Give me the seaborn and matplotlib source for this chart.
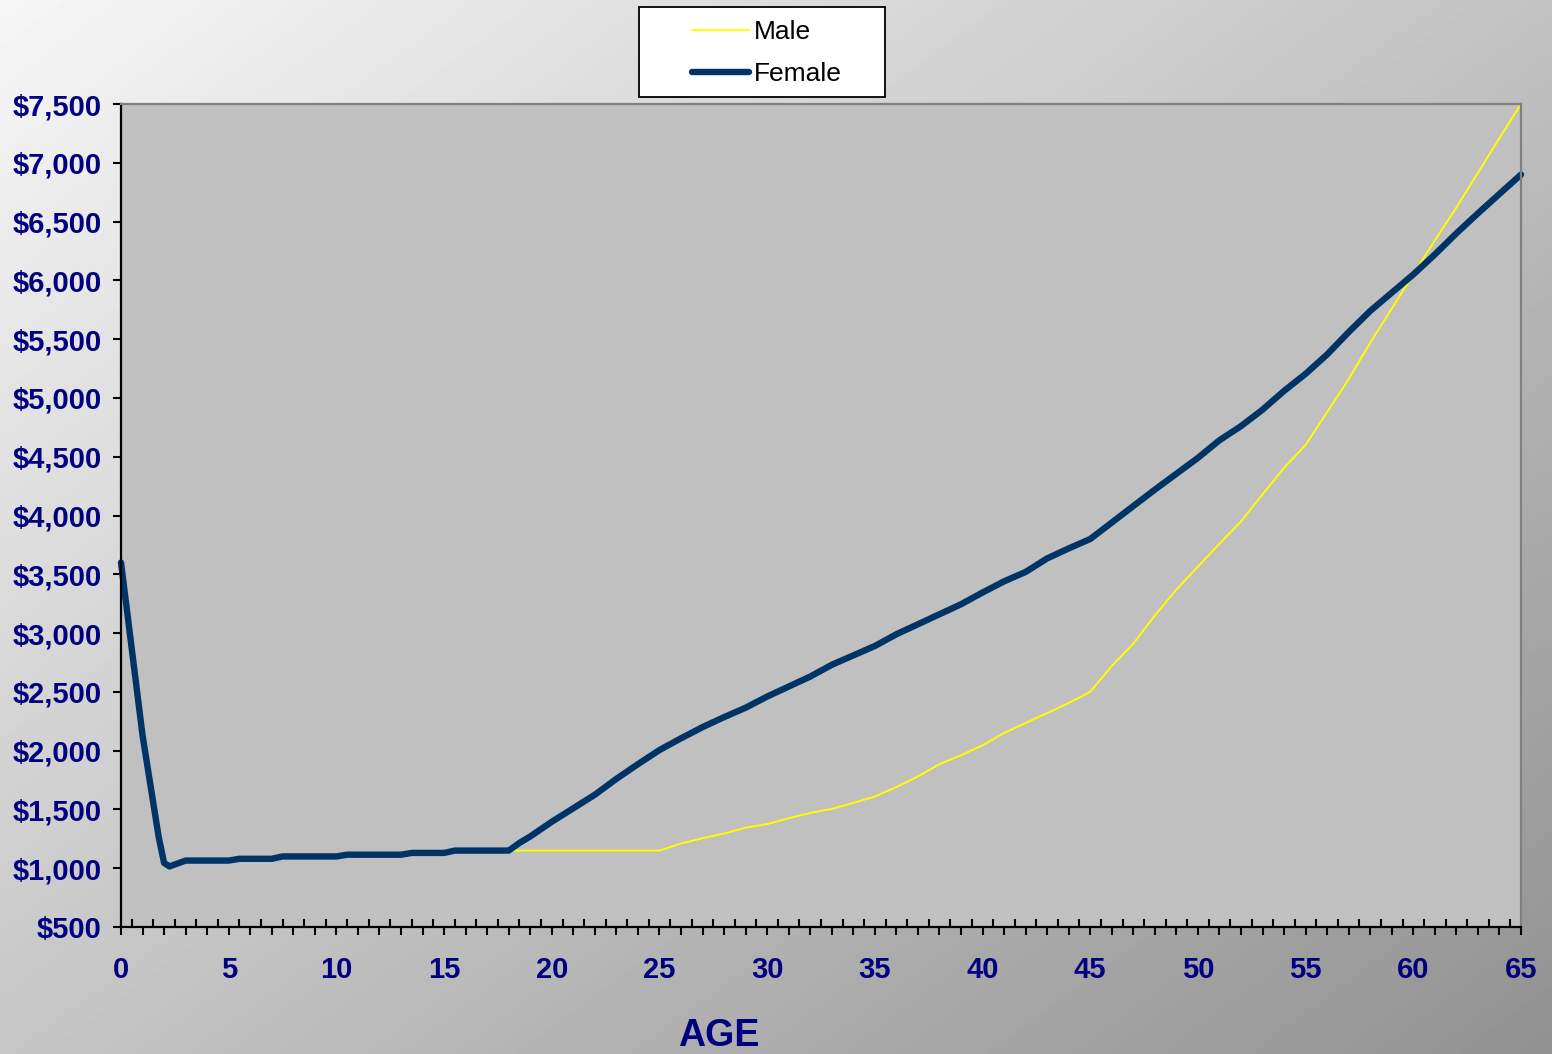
import numpy as np
import matplotlib
matplotlib.use("Agg")
import matplotlib.pyplot as plt
import seaborn as sns
from matplotlib.ticker import MultipleLocator, FuncFormatter
from matplotlib.patches import Rectangle

# Annual cost by age
ages = [0, 1, 1.75, 2, 2.25, 3, 5, 5.5, 7, 7.5, 10, 10.5, 13, 13.5, 15, 15.5, 18, 18.5,
        19, 20, 21, 22, 23, 24, 25, 26, 27, 28, 29, 30, 31, 32, 33, 34, 35, 36, 37, 38,
        39, 40, 41, 42, 43, 44, 45, 46, 47, 48, 49, 50, 51, 52, 53, 54, 55, 56, 57, 58,
        59, 60, 61, 62, 63, 64, 65]

female = [3600, 2130, 1265, 1045, 1015, 1065, 1065, 1080, 1080, 1100, 1100, 1115, 1115,
          1130, 1130, 1150, 1150, 1215,
          1270, 1395, 1510, 1625, 1760, 1885, 2005, 2105, 2200, 2285, 2365, 2460, 2545,
          2630, 2730, 2810, 2890, 2990, 3075, 3160, 3245, 3345, 3440, 3520, 3635, 3720,
          3800, 3940, 4080, 4220, 4355, 4490, 4640, 4760, 4900, 5060, 5205, 5370, 5560,
          5740, 5895, 6050, 6220, 6400, 6570, 6735, 6900]

male = [3600, 2130, 1265, 1045, 1015, 1065, 1065, 1080, 1080, 1100, 1100, 1115, 1115,
        1130, 1130, 1150, 1150, 1150,
        1150, 1150, 1150, 1150, 1150, 1150, 1150, 1210, 1255, 1295, 1345, 1375, 1425,
        1470, 1505, 1555, 1610, 1690, 1780, 1885, 1960, 2045, 2150, 2235, 2320, 2405,
        2500, 2720, 2910, 3150, 3370, 3565, 3760, 3950, 4180, 4405, 4600, 4880, 5160,
        5470, 5760, 6050, 6340, 6620, 6915, 7210, 7500]

series_names = ["Male", "Female"]
series_colors = ["#FFFF00", "#003366"]

plt.rcParams["font.family"] = ["Liberation Sans", "DejaVu Sans"]
LABEL_BLUE = "#000080"

W, H = 1552, 1054
fig = plt.figure(figsize=(W / 100, H / 100), dpi=100)

# diagonal grey gradient backdrop
bg = fig.add_axes([0, 0, 1, 1], zorder=-10)
yy, xx = np.mgrid[0:1:300j, 0:1:450j]
t = 0.52 * xx + 0.48 * yy
shade = 0.965 - 0.395 * t
bg.imshow(shade, cmap="gray", vmin=0, vmax=1, extent=[0, 1, 0, 1],
          origin="upper", aspect="auto", interpolation="bilinear")
bg.axis("off")

ax = fig.add_axes([121 / W, 127 / H, 1400 / W, 823 / H])
ax.set_facecolor("#C0C0C0")

sns.lineplot(x=ages, y=male, ax=ax, color=series_colors[0], linewidth=1.4,
             label=series_names[0], sort=False)
sns.lineplot(x=ages, y=female, ax=ax, color=series_colors[1], linewidth=4.6,
             label=series_names[1], sort=False, solid_capstyle="round",
             solid_joinstyle="round", clip_on=False)

ax.set_xlim(0, 65)
ax.set_ylim(500, 7500)

ax.xaxis.set_major_locator(MultipleLocator(1))
ax.xaxis.set_minor_locator(MultipleLocator(0.5))
ax.xaxis.set_major_formatter(FuncFormatter(
    lambda v, p: f"{int(round(v))}" if int(round(v)) % 5 == 0 else ""))
ax.yaxis.set_major_locator(MultipleLocator(500))
ax.yaxis.set_major_formatter(FuncFormatter(lambda v, p: f"${v:,.0f}"))

ax.tick_params(axis="x", which="major", direction="out", length=6, width=1.5,
               color="black", pad=15, labelsize=21, labelcolor=LABEL_BLUE,
               bottom=True)
ax.tick_params(axis="x", which="minor", direction="in", length=5.5, width=1.5,
               color="black", bottom=True)
ax.tick_params(axis="y", which="major", direction="out", length=6, width=1.5,
               color="black", pad=8, labelsize=21, labelcolor=LABEL_BLUE, left=True)
for lbl in ax.get_xticklabels() + ax.get_yticklabels():
    lbl.set_fontweight("bold")

for side in ["left", "bottom"]:
    ax.spines[side].set_color("black")
    ax.spines[side].set_linewidth(1.6)
for side in ["top", "right"]:
    ax.spines[side].set_color("#808080")
    ax.spines[side].set_linewidth(1.6)
ax.grid(False)

ax.set_ylabel("")
ax.set_xlabel("AGE", fontsize=27, fontweight="bold", color=LABEL_BLUE)
ax.xaxis.set_label_coords(0.427, -0.110)

# legend in a white framed box above the plot
handles, labels = ax.get_legend_handles_labels()
if ax.get_legend() is not None:
    ax.get_legend().remove()
fig.patches.append(Rectangle((639 / W, 1 - 97 / H), 246 / W, 90 / H,
                             transform=fig.transFigure, facecolor="white",
                             edgecolor="black", linewidth=1.3, zorder=1))
leg = fig.legend(handles, labels, loc="upper left",
                 bbox_to_anchor=(692 / W, 1 - 20 / H), frameon=False,
                 fontsize=19, handlelength=2.16, handletextpad=0.2,
                 labelspacing=0.68, borderpad=0, borderaxespad=0)
for txt in leg.get_texts():
    txt.set_color("black")

fig.savefig("out.png", dpi=100)
